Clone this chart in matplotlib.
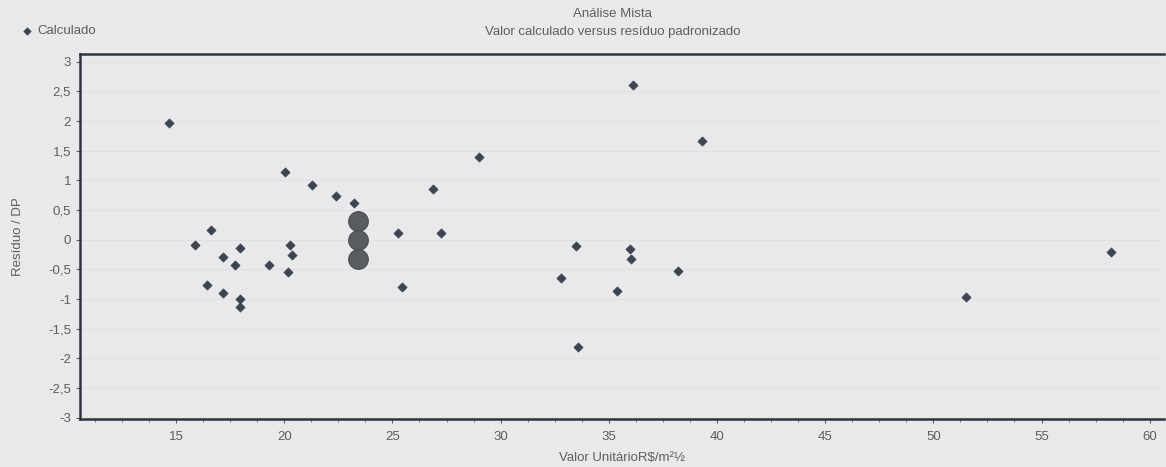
import matplotlib
matplotlib.use("Agg")
import matplotlib.pyplot as plt
from matplotlib.ticker import MultipleLocator, FuncFormatter

plt.rcParams["font.family"] = ["Liberation Sans", "DejaVu Sans"]

# Data: calculated value (x) vs standardized residual (y)
calc_x = [14.69, 29.00, 20.04, 21.28, 26.89, 22.38, 23.24, 16.62, 25.26, 27.23,
          15.89, 20.25, 17.97, 20.37, 17.17, 17.71, 19.28, 20.16, 16.43, 25.46,
          17.17, 17.96, 17.96, 36.12, 39.32, 33.47, 35.97, 36.03, 32.79, 38.21,
          35.38, 33.57, 51.51, 58.20]
resid_y = [1.97, 1.40, 1.14, 0.92, 0.85, 0.74, 0.62, 0.16, 0.12, 0.12,
           -0.09, -0.09, -0.14, -0.25, -0.29, -0.42, -0.42, -0.55, -0.76, -0.80,
           -0.89, -1.00, -1.13, 2.60, 1.66, -0.10, -0.15, -0.33, -0.64, -0.52,
           -0.87, -1.81, -0.97, -0.21]
# highlighted points (large circles)
big_x = [23.42, 23.42, 23.42]
big_y = [0.32, 0.0, -0.33]

y_ticks = [-3, -2.5, -2, -1.5, -1, -0.5, 0, 0.5, 1, 1.5, 2, 2.5, 3]
x_ticks = [15, 20, 25, 30, 35, 40, 45, 50, 55, 60]

bg = "#e9e9eb"
txt = "#5e5e5e"

fig = plt.figure(figsize=(11.66, 4.67), dpi=100, facecolor=bg)
ax = fig.add_axes([80/1166, 1-419/467, (1164-80)/1166, (419-54)/467], facecolor=bg)

ax.set_xlim(10.56, 60.66)
ax.set_ylim(-3.02, 3.13)

for yv in y_ticks:
    ax.axhline(yv, color="#e0e0e3", lw=0.7, zorder=0)

ax.scatter(calc_x, resid_y, marker="D", s=22, color="#3c4452", edgecolors="#3c4452",
           linewidths=0.5, zorder=3, label="Calculado")
ax.scatter(big_x, big_y, marker="o", s=200, color="#5a5d60", edgecolors="#4a4d50",
           linewidths=0.8, zorder=3)

ax.set_yticks(y_ticks)
ax.set_xticks(x_ticks)
ax.xaxis.set_minor_locator(MultipleLocator(1.25))
fmt = FuncFormatter(lambda v, p: ("%g" % v).replace(".", ","))
ax.yaxis.set_major_formatter(fmt)
ax.tick_params(axis="both", labelsize=9.5, colors=txt, length=3, width=0.8)
ax.tick_params(axis="x", which="major", pad=6)
ax.tick_params(axis="x", which="minor", length=2, color=txt)
for lab in ax.get_xticklabels() + ax.get_yticklabels():
    lab.set_color(txt)

for side in ["left", "bottom", "top"]:
    ax.spines[side].set_color("#2e3540")
    ax.spines[side].set_linewidth(1.8)
ax.spines["right"].set_visible(False)

ax.set_ylabel("Resíduo / DP", fontsize=9.5, color=txt, labelpad=17)
ax.set_xlabel("Valor UnitárioR$/m²½", fontsize=9.5, color=txt, labelpad=6)

fig.text(0.5255, 1-14/467, "Análise Mista", ha="center", va="center", fontsize=9.5, color=txt)
fig.text(0.5255, 1-32/467, "Valor calculado versus resíduo padronizado", ha="center",
         va="center", fontsize=9.5, color=txt)

leg = ax.legend(loc="upper left", bbox_to_anchor=(20/1166, 1-25/467), bbox_transform=fig.transFigure,
                frameon=False, fontsize=9.5, handletextpad=0.3, markerscale=0.8,
                borderaxespad=0, borderpad=0, handlelength=1.0)
for t in leg.get_texts():
    t.set_color(txt)

fig.savefig("out.png", dpi=100, facecolor=bg)
